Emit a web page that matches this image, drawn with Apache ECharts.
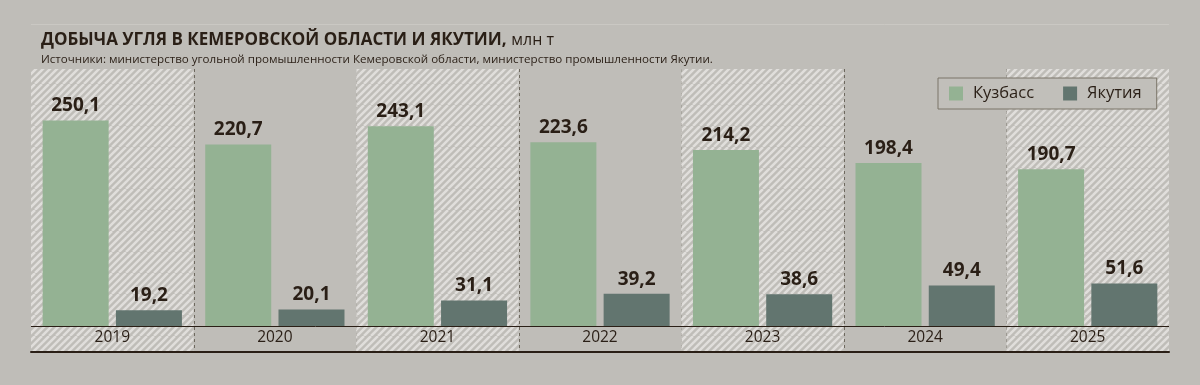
<!DOCTYPE html>
<html>
<head>
<meta charset="utf-8">
<script src="https://cdn.jsdelivr.net/npm/echarts@6/dist/echarts.min.js"></script>
<style>
html,body{margin:0;padding:0;background:#bfbdb8;}
#c{width:1200px;height:385px;}
</style>
</head>
<body>
<div id="c"></div>
<script>
const categories = ['2019','2020','2021','2022','2023','2024','2025'];
const kuzbass = [250.1, 220.7, 243.1, 223.6, 214.2, 198.4, 190.7];
const yakutia = [19.2, 20.1, 31.1, 39.2, 38.6, 49.4, 51.6];
const seriesNames = ['Кузбасс', 'Якутия'];
const titleText = 'ДОБЫЧА УГЛЯ В КЕМЕРОВСКОЙ ОБЛАСТИ И ЯКУТИИ,';
const unitText = 'млн т';
const sourceText = 'Источники: министерство угольной промышленности Кемеровской области, министерство промышленности Якутии.';

const FONT = '"Open Sans", "Noto Sans", sans-serif';
const DARK = '#2a1f16';
const BG = '#bfbdb8';

// hatch pattern (tile holds 3 stripes, period 7px)
const s = 21, step = 7;
const cv = document.createElement('canvas');
cv.width = s; cv.height = s;
const ctx = cv.getContext('2d');
ctx.fillStyle = BG; ctx.fillRect(0,0,s,s);
ctx.strokeStyle = '#e0dedb'; ctx.lineWidth = 2.5;
for (let o = -s; o <= s; o += step) { ctx.beginPath(); ctx.moveTo(o, s); ctx.lineTo(o + s, 0); ctx.stroke(); }

const chart = echarts.init(document.getElementById('c'), null, {renderer: 'canvas'});
const fmt = p => String(p.value).replace('.', ',');

chart.setOption({
  backgroundColor: BG,
  animation: false,
  textStyle: {fontFamily: FONT},
  graphic: [{
    type: 'line', shape: {x1: 31, y1: 24.5, x2: 1169, y2: 24.5},
    style: {stroke: '#cac8c3', lineWidth: 1}
  }],
  title: [{
    left: 36, top: 26,
    text: '{b|' + titleText + '} {n|' + unitText + '}',
    textStyle: {
      rich: {
        b: {fontFamily: FONT, fontWeight: 'bold', fontSize: 17, color: DARK},
        n: {fontFamily: FONT, fontWeight: 'normal', fontSize: 16, color: DARK}
      }
    }
  }, {
    left: 36, top: 49,
    text: sourceText,
    textStyle: {fontFamily: FONT, fontWeight: 'normal', fontSize: 11.6, color: DARK}
  }],
  legend: {
    left: 938, top: 78,
    padding: [7, 15, 7, 11],
    itemWidth: 14, itemHeight: 14, itemGap: 29,
    icon: 'rect',
    backgroundColor: '#c1bfba',
    borderColor: '#7a7468', borderWidth: 1,
    data: seriesNames,
    textStyle: {fontFamily: FONT, fontSize: 16.5, color: DARK, padding: [0, 0, 0, 5]}
  },
  grid: {left: 31, right: 31, top: 69, bottom: 33},
  xAxis: {
    type: 'category',
    data: categories,
    axisLine: {show: true, onZero: false, lineStyle: {color: DARK, width: 2}},
    axisTick: {show: false},
    axisLabel: {inside: true, margin: 6, fontSize: 15.5, color: DARK, fontFamily: FONT},
    splitLine: {show: false}
  },
  yAxis: {type: 'value', min: -31.6, max: 312.6, show: false, splitLine: {show: false}},
  series: [{
    type: 'custom',
    z: 0,
    silent: true,
    data: categories.map((c, i) => [i, 0]),
    encode: {x: 0, y: 1},
    renderItem: function (params, api) {
      const i = api.value(0);
      const c = api.coord([i, 0]);
      const w = api.size([1, 0])[0];
      const cs = params.coordSys;
      const children = [];
      if (i % 2 === 0) {
        children.push({type: 'rect', shape: {x: c[0] - w / 2, y: cs.y, width: w, height: cs.height},
          style: {fill: {image: cv, repeat: 'repeat'}}});
      }
      if (i < categories.length - 1) {
        const x = Math.round(c[0] + w / 2) + 0.5;
        children.push({type: 'line', shape: {x1: x, y1: cs.y, x2: x, y2: cs.y + cs.height},
          style: {stroke: '#6e695f', lineWidth: 1, lineDash: [3, 3]}});
      }
      return {type: 'group', children: children};
    }
  }, {
    name: seriesNames[0],
    type: 'bar',
    z: 2,
    data: kuzbass,
    barWidth: 66,
    barGap: '11%',
    itemStyle: {color: '#94b293'},
    label: {show: true, position: 'top', distance: 5, formatter: fmt,
      fontFamily: FONT, fontWeight: 'bold', fontSize: 19, color: DARK},
    markLine: {
      silent: true, symbol: ['none', 'none'],
      label: {show: false},
      lineStyle: {color: DARK, width: 1, type: 'solid'},
      data: [{yAxis: 0}]
    }
  }, {
    name: seriesNames[1],
    type: 'bar',
    z: 2,
    data: yakutia,
    barWidth: 66,
    itemStyle: {color: '#62756f'},
    label: {show: true, position: 'top', distance: 5, formatter: fmt,
      fontFamily: FONT, fontWeight: 'bold', fontSize: 19, color: DARK}
  }]
});
</script>
</body>
</html>
